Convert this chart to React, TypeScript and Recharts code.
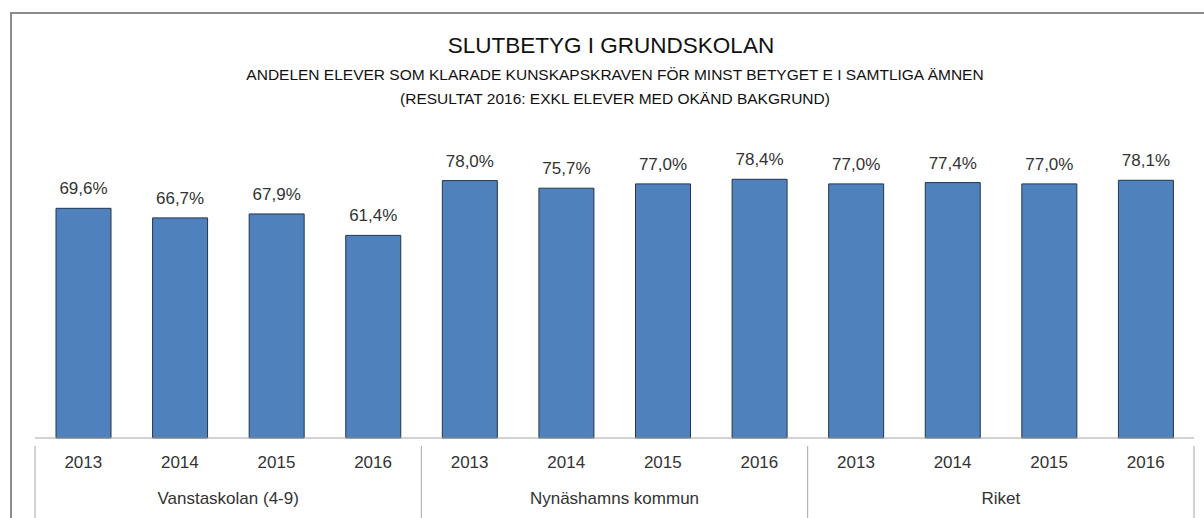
import React from 'react';
import { BarChart, Bar, XAxis, YAxis, LabelList } from 'recharts';

const years = ['2013', '2014', '2015', '2016'];
const groups = ['Vanstaskolan (4-9)', 'Nynäshamns kommun', 'Riket'];
const vanstaskolan = [69.6, 66.7, 67.9, 61.4];
const nynashamn = [78.0, 75.7, 77.0, 78.4];
const riket = [77.0, 77.4, 77.0, 78.1];

const title = 'SLUTBETYG I GRUNDSKOLAN';
const subtitle = 'ANDELEN ELEVER SOM KLARADE KUNSKAPSKRAVEN FÖR MINST BETYGET E I SAMTLIGA ÄMNEN';
const subtitle2 = '(RESULTAT 2016: EXKL ELEVER MED OKÄND BAKGRUND)';

const data = [vanstaskolan, nynashamn, riket].flatMap((vals, g) =>
  vals.map((v, i) => ({ key: `${g}-${years[i]}`, year: years[i], group: groups[g], value: v }))
);

const FONT = '"Liberation Sans", Arial, sans-serif';
const TEXT = '#333';
const LINE = '#A6A6A6';

const W = 1204;
const H = 518;
const margin = { top: 108, right: 10, bottom: 0, left: 35 };
const plotW = W - margin.left - margin.right;

const YearTick = (props: any) => {
  const { x, y, index, payload } = props;
  const half = payload?.offset || plotW / data.length / 2;
  return (
    <g>
      <text x={x} y={y + 22} textAnchor="middle" fontFamily={FONT} fontSize={17} fill={TEXT}>
        {data[index]?.year}
      </text>
      {index % years.length === 0 && (
        <line x1={x - half} x2={x - half} y1={y} y2={y + 74} stroke={LINE} />
      )}
      {index === data.length - 1 && (
        <line x1={x + half} x2={x + half} y1={y} y2={y + 74} stroke={LINE} />
      )}
    </g>
  );
};

const GroupTick = (props: any) => {
  const { x, y, index, payload } = props;
  if (index % years.length !== 1) return null;
  const half = payload?.offset || plotW / data.length / 2;
  const g = data[index]?.group ?? '';
  return (
    <text x={x + half} y={y + 20} textAnchor="middle" fontFamily={FONT} fontSize={17} fill={TEXT}>
      {g}
    </text>
  );
};

const fmt = (v: any) => `${Number(v).toFixed(1).replace('.', ',')}%`;

export default function App() {
  return (
    <div style={{ position: 'relative', width: W, height: H, background: '#fff', fontFamily: FONT }}>
      <style>{'body{margin:0}'}</style>
      <div
        style={{
          position: 'absolute',
          left: 10,
          top: 12,
          right: 0,
          bottom: 0,
          borderTop: '2px solid #8C8C8C',
          borderLeft: '2px solid #8C8C8C',
        }}
      />
      <div style={{ position: 'absolute', left: 0, width: 1222, top: 33, textAlign: 'center', fontSize: 22.5, color: '#111' }}>
        {title}
      </div>
      <div style={{ position: 'absolute', left: 0, width: 1230, top: 66, textAlign: 'center', fontSize: 15.5, color: '#111' }}>
        {subtitle}
      </div>
      <div style={{ position: 'absolute', left: 0, width: 1230, top: 90, textAlign: 'center', fontSize: 15.5, color: '#111' }}>
        {subtitle2}
      </div>
      <div style={{ position: 'absolute', left: 0, top: 0 }}>
        <BarChart width={W} height={H} data={data} margin={margin}>
          <YAxis hide domain={[0, 100]} />
          <XAxis
            dataKey="key"
            xAxisId={0}
            height={38}
            tickLine={false}
            axisLine={{ stroke: LINE }}
            tick={<YearTick />}
            interval={0}
          />
          <XAxis
            dataKey="key"
            xAxisId="group"
            height={42}
            tickLine={false}
            axisLine={false}
            tick={<GroupTick />}
            interval={0}
          />
          <Bar dataKey="value" xAxisId={0} barSize={55} fill="#4F81BD" stroke="#22364F" strokeWidth={1} isAnimationActive={false}>
            <LabelList dataKey="value" position="top" offset={14} formatter={fmt} fill={TEXT} fontSize={17} fontFamily={FONT} />
          </Bar>
        </BarChart>
      </div>
    </div>
  );
}
